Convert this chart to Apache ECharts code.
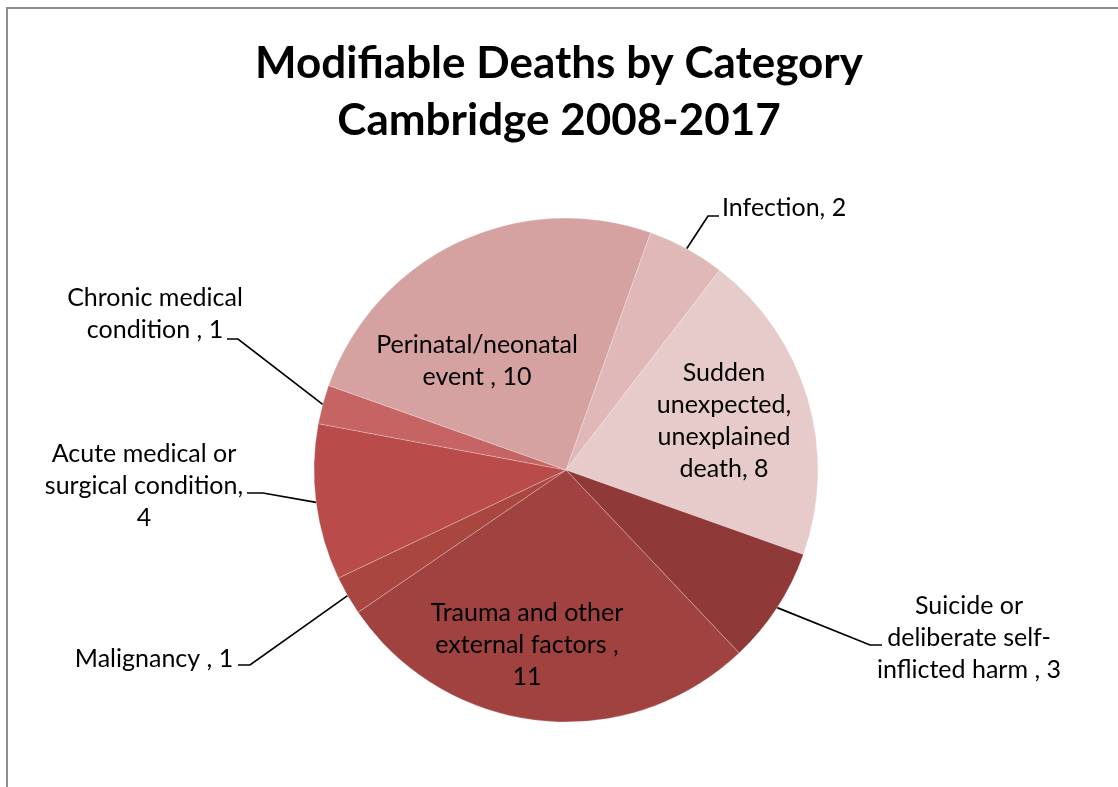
<!DOCTYPE html>
<html lang="en">
<head>
  <meta charset="UTF-8">
  <title>Modifiable Deaths by Category</title>
  <style>
    * { margin: 0; padding: 0; }
    html, body { width: 100%; height: 100%; background: #fff; }
    #chart { width: 1118px; height: 787px; }
  </style>
</head>
<body>
  <div id="chart"></div>

  <script src="https://cdn.jsdelivr.net/npm/echarts@6/dist/echarts.min.js"></script>
  <script>
    // data, clockwise from the Infection slice
    const categories = [
      'Infection',
      'Sudden unexpected, unexplained death',
      'Suicide or deliberate self-inflicted harm ',
      'Trauma and other external factors ',
      'Malignancy ',
      'Acute medical or surgical condition',
      'Chronic medical condition ',
      'Perinatal/neonatal event '
    ];
    const deaths = [2, 8, 3, 11, 1, 4, 1, 10];
    // label text as wrapped in the original ({c} = value)
    const labelFormats = [
      'Infection, {c}',
      'Sudden\nunexpected,\nunexplained\ndeath, {c}',
      'Suicide or\ndeliberate self-\ninflicted harm , {c}',
      'Trauma and other\nexternal factors ,\n{c}',
      'Malignancy , {c}',
      'Acute medical or\nsurgical condition,\n{c}',
      'Chronic medical\ncondition , {c}',
      'Perinatal/neonatal\nevent , {c}'
    ];
    const sliceColors = ['#dfb8b7', '#e6cbca', '#8f3a38', '#a0423f', '#a9463f', '#b94c4a', '#c56462', '#d5a2a1'];

    // where each label sits (outside labels get a leader line)
    const labelSpots = [
      { x: 722, y: 208, align: 'left', line: [[708, 216], [719, 216]] },
      { x: 724, y: 421, align: 'center' },
      { x: 969, y: 638, align: 'center', line: [[870, 645], [882, 645]] },
      { x: 527, y: 645, align: 'center' },
      { x: 154, y: 659, align: 'center', line: [[250, 665], [238, 665]] },
      { x: 144, y: 486, align: 'center', line: [[263, 493], [247, 493]] },
      { x: 155, y: 314, align: 'center', line: [[238, 339], [227, 339]] },
      { x: 477, y: 361, align: 'center' }
    ];

    const FONT = 'Lato';

    const chart = echarts.init(document.getElementById('chart'), null, { renderer: 'canvas' });

    const pieData = categories.map((name, i) => {
      const outside = !!labelSpots[i].line;
      return {
        name: name,
        value: deaths[i],
        itemStyle: { color: sliceColors[i] },
        label: {
          position: outside ? 'outside' : 'inside',
          formatter: labelFormats[i]
        },
        labelLine: { show: outside }
      };
    });

    const option = {
      animation: false,
      title: {
        text: 'Modifiable Deaths by Category\nCambridge 2008-2017',
        left: 'center',
        top: 30,
        textStyle: {
          fontFamily: FONT,
          fontWeight: 'bold',
          fontSize: 44,
          lineHeight: 57,
          color: '#000'
        }
      },
      graphic: [{
        type: 'rect',
        shape: { x: 7, y: 8, width: 1300, height: 900 },
        style: { fill: 'none', stroke: '#8c8c8c', lineWidth: 2 },
        silent: true
      }],
      series: [{
        type: 'pie',
        center: [566, 470],
        radius: 252,
        startAngle: 70.4,
        clockwise: true,
        avoidLabelOverlap: false,
        emphasis: { disabled: true },
        itemStyle: { borderColor: 'rgba(255,255,255,0.35)', borderWidth: 0.7 },
        label: {
          fontFamily: FONT,
          fontSize: 25,
          lineHeight: 32,
          color: '#000'
        },
        labelLine: {
          length: 20,
          length2: 10,
          lineStyle: { color: '#000', width: 1.7 }
        },
        labelLayout: function (params) {
          const spot = labelSpots[params.dataIndex];
          const out = { x: spot.x, y: spot.y, align: spot.align, verticalAlign: 'middle' };
          if (spot.line && params.labelLinePoints) {
            out.labelLinePoints = [params.labelLinePoints[0]].concat(spot.line);
          }
          return out;
        },
        data: pieData
      }]
    };

    chart.setOption(option);
    window.addEventListener('resize', () => chart.resize());
  </script>
</body>
</html>
